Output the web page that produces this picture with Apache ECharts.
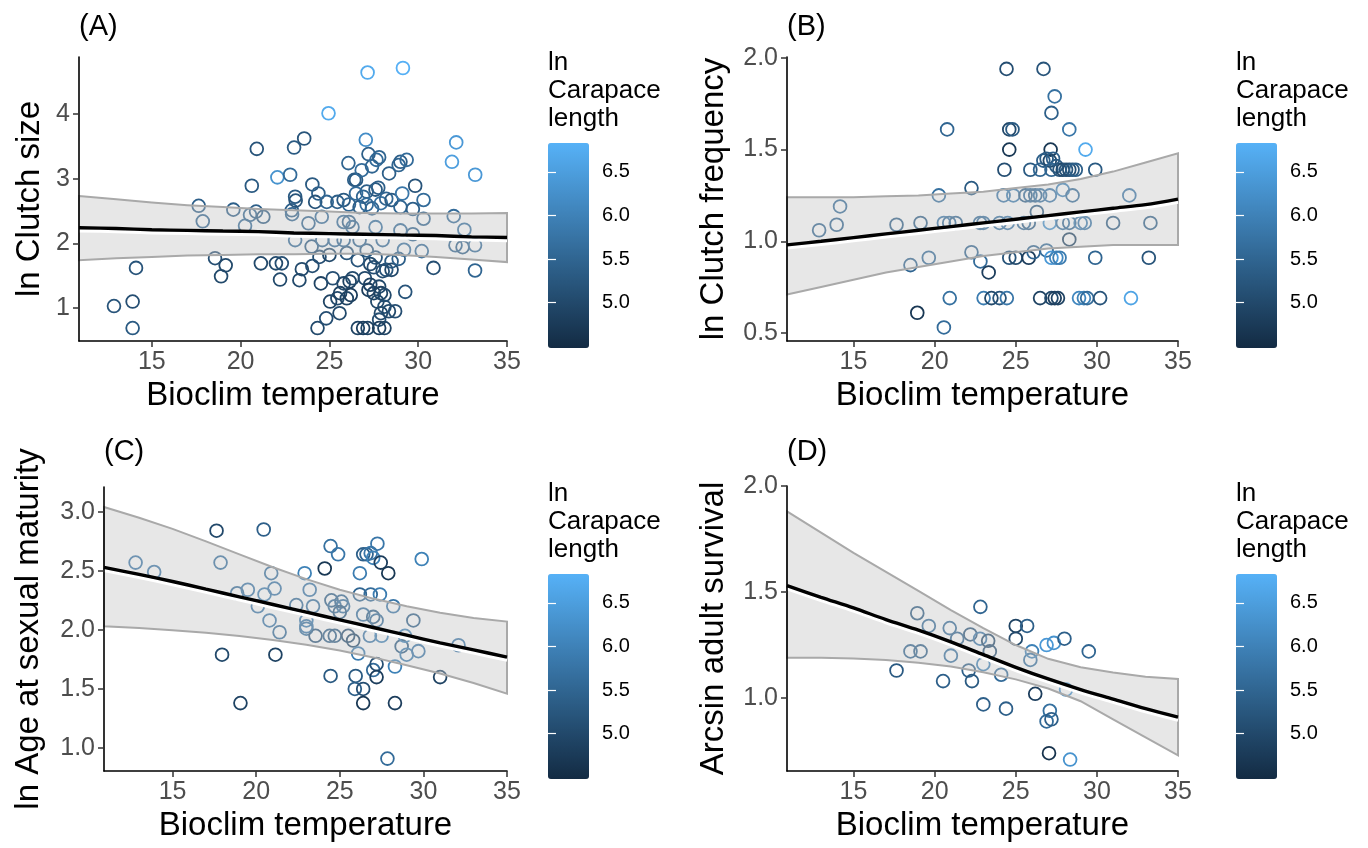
<!DOCTYPE html>
<html><head><meta charset="utf-8">
<script src="https://cdn.jsdelivr.net/npm/echarts@6/dist/echarts.min.js"></script>
<style>html,body{margin:0;padding:0;background:#fff}#c{width:1368px;height:848px}</style>
</head><body><div id="c"></div>
<script>
// ---------- Panel A: ln Clutch size ----------
const tempA = [12.87,13.92,13.92,14.11,17.64,17.87,18.56,19.16,18.90,19.59,20.25,20.63,20.91,20.53,20.87,21.28,21.14,22.07,21.99,22.32,22.22,22.79,23.01,23.58,22.88,22.90,23.07,23.10,23.45,23.31,23.07,23.82,24.00,24.04,24.04,24.38,24.20,24.57,24.44,24.52,24.33,24.82,24.95,24.85,25.00,25.19,25.04,25.57,25.45,25.60,26.07,25.45,25.80,26.10,25.80,25.98,25.80,26.14,26.30,26.20,25.98,26.40,26.50,26.82,27.05,27.15,29.14,27.20,27.40,27.65,27.80,27.60,27.10,26.90,26.50,26.70,27.10,27.40,27.75,27.90,28.20,28.36,28.50,28.90,29.00,29.35,29.10,29.00,29.83,29.70,30.30,30.30,29.00,29.70,30.20,29.20,30.86,29.27,28.50,28.20,28.50,28.00,27.60,27.50,27.30,27.10,27.00,27.30,27.20,27.50,27.80,27.90,28.10,27.70,28.10,27.90,27.80,28.35,28.70,26.60,26.90,27.15,27.80,28.10,31.90,32.14,33.21,32.00,32.60,32.10,32.50,33.20,33.20,26.70,26.30,26.10,25.30,24.60,27.60,28.00,25.80,28.90,26.60];
const clutchSizeA = [1.03,1.10,0.69,1.62,2.58,2.34,1.77,1.66,1.49,2.52,2.27,2.89,3.46,2.44,2.49,2.41,1.69,3.02,1.69,1.69,1.44,3.06,3.48,3.62,2.51,2.45,2.72,2.66,1.60,1.43,2.05,2.31,1.95,1.65,2.91,2.77,2.64,2.41,1.79,1.38,0.69,0.84,4.01,2.64,1.82,1.46,1.10,0.92,1.15,1.23,3.24,2.64,2.67,2.60,2.33,1.85,1.38,1.41,1.46,1.20,1.15,2.98,2.98,3.13,3.60,4.64,4.71,3.38,3.19,3.29,3.33,2.83,2.80,2.72,2.77,2.56,2.60,2.54,2.86,2.62,2.69,3.08,2.67,3.21,3.26,3.29,2.77,2.56,2.89,2.53,2.67,2.38,2.20,2.14,1.88,1.90,1.62,1.25,1.72,1.59,1.59,1.57,1.78,1.63,1.68,1.89,1.46,1.36,1.28,1.23,1.33,1.23,1.20,1.10,1.02,0.92,0.82,0.95,0.95,0.69,0.69,0.69,0.69,0.69,3.26,3.56,3.06,2.42,2.21,1.97,1.94,1.97,1.58,2.05,2.25,2.33,2.05,2.05,2.25,2.05,2.05,1.76,1.74];
const carapaceA = [5.2,5.1,5.3,5.2,5.4,5.5,5.1,5.0,5.0,5.4,5.6,5.3,5.2,5.5,5.4,5.3,5.0,6.3,5.0,5.1,5.0,5.6,5.3,5.2,5.4,5.5,5.3,5.2,5.0,5.0,5.6,5.5,5.3,5.1,5.3,5.4,5.2,5.6,5.1,4.9,5.0,5.1,6.7,5.5,5.0,5.1,4.9,5.0,5.0,4.9,5.5,5.4,5.3,5.5,5.6,5.2,5.0,4.9,5.0,4.8,4.9,5.4,5.3,5.6,6.2,6.7,6.8,5.4,5.5,5.6,5.5,5.3,5.4,5.5,5.6,5.4,5.6,5.5,5.4,5.7,5.5,5.4,5.3,5.5,5.4,5.6,5.8,5.5,5.2,5.4,5.6,5.5,5.6,5.5,5.6,5.7,5.1,5.2,5.3,5.2,5.0,5.1,5.2,5.1,5.0,5.3,5.0,4.9,4.8,4.9,5.0,4.9,5.0,5.0,5.1,5.0,5.1,5.0,5.1,4.9,4.8,4.9,4.8,4.9,6.5,6.4,6.4,5.6,5.7,5.5,5.4,5.6,5.5,5.5,5.6,5.4,5.6,5.5,5.7,5.6,5.5,5.4,5.2];

// ---------- Panel B: ln Clutch frequency ----------
const tempB = [12.88,13.96,14.17,17.65,18.51,19.13,18.93,19.64,20.26,20.57,20.77,20.57,20.93,20.90,21.30,22.27,22.27,22.82,23.33,23.00,23.02,23.50,24.00,24.45,24.25,24.00,24.50,24.43,24.60,24.80,24.60,24.30,24.85,24.60,25.00,25.80,26.10,25.90,26.50,25.60,25.90,26.20,26.50,27.10,25.50,25.80,26.30,26.71,27.40,27.20,28.30,27.15,26.70,26.90,27.10,27.30,27.50,27.20,27.70,27.90,28.10,28.30,28.50,28.70,29.90,29.30,27.90,28.50,32.00,27.10,27.90,28.30,29.00,29.25,31.00,33.30,28.30,26.90,27.20,27.50,27.70,29.90,33.20,26.50,27.20,27.40,27.60,28.90,29.20,29.40,30.20,32.10,22.80];
const clutchFreqB = [1.06,1.09,1.19,1.09,0.87,1.10,0.61,0.91,1.25,1.10,1.61,0.53,0.69,1.10,1.10,1.29,0.94,0.89,0.83,1.10,0.69,0.69,0.69,0.69,1.25,1.10,1.10,1.94,1.61,1.61,1.50,1.39,1.25,0.91,0.91,0.91,0.94,1.39,1.39,1.25,1.25,1.25,1.25,1.25,1.10,1.10,1.16,1.94,1.79,1.70,1.61,1.50,1.44,1.45,1.44,1.45,1.41,1.39,1.39,1.39,1.39,1.39,1.39,1.39,1.39,1.50,1.28,1.25,1.25,1.10,1.10,1.10,1.10,1.10,1.10,1.10,1.01,0.95,0.91,0.91,0.91,0.91,0.91,0.69,0.69,0.69,0.69,0.69,0.69,0.69,0.69,0.69,1.10];
const carapaceB = [5.5,5.5,5.6,5.4,5.5,5.4,4.7,5.6,5.7,5.8,5.5,5.6,5.7,5.6,5.5,5.3,5.5,5.6,4.8,5.7,5.9,5.0,5.2,5.8,5.8,5.7,5.8,5.1,5.0,5.3,4.7,5.1,5.9,5.2,5.0,4.8,5.5,5.3,5.5,5.4,5.6,5.5,5.7,5.8,5.6,5.4,5.3,5.2,5.7,5.4,5.8,4.7,5.4,5.3,5.0,5.4,5.3,5.5,5.2,5.0,5.2,5.1,5.3,5.4,5.3,6.7,6.0,5.6,5.8,6.3,5.7,5.5,5.9,5.8,5.3,5.4,4.9,5.6,6.4,6.1,5.9,5.5,5.2,4.9,5.0,4.8,4.9,6.1,6.0,5.6,5.2,6.6,5.6];

// ---------- Panel C: ln Age at sexual maturity ----------
const tempC = [12.79,13.90,17.63,17.87,20.45,18.86,19.50,20.10,20.50,20.90,21.10,20.80,21.40,17.96,21.15,19.06,22.40,22.90,23.20,23.40,23.00,23.00,23.55,24.10,24.45,24.90,24.50,24.70,25.10,25.20,25.00,24.40,24.70,24.45,25.50,25.80,26.20,26.20,26.40,26.60,26.85,27.00,27.25,27.45,27.90,26.85,27.40,26.40,27.00,27.20,26.80,27.50,28.20,26.10,25.95,25.90,26.40,26.40,27.00,27.20,27.20,28.30,28.30,27.85,28.70,28.90,29.00,29.70,29.40,29.90,31.00,32.10,23.00];
const ageMatC = [2.57,2.49,2.84,2.57,2.85,2.31,2.34,2.20,2.30,2.48,2.35,2.08,1.98,1.79,1.79,1.38,2.21,2.48,2.34,2.20,2.08,2.01,1.95,2.52,2.71,2.64,2.25,2.20,2.24,2.20,2.15,1.95,1.95,1.61,1.95,1.91,2.48,2.30,2.64,2.64,2.65,2.61,2.73,2.57,2.48,2.30,2.30,2.13,2.11,2.08,1.95,1.95,2.20,1.80,1.61,1.50,1.50,1.38,1.66,1.71,1.60,1.69,1.38,0.91,1.86,1.95,1.79,1.82,2.08,2.60,1.60,1.87,2.03];
const carapaceC = [5.8,5.8,5.0,5.7,5.4,5.6,5.8,5.8,5.9,5.7,5.8,5.8,5.6,5.0,4.9,4.9,5.6,6.0,5.8,5.7,5.9,5.7,5.2,4.7,5.7,5.8,5.4,5.6,5.5,5.7,5.3,5.4,5.3,5.3,5.1,5.0,5.9,5.5,5.4,5.5,5.8,6.0,5.8,4.8,4.7,5.6,5.9,5.7,5.4,5.6,5.8,6.0,5.8,5.9,5.3,5.4,5.1,4.7,5.6,5.1,4.8,6.0,4.8,5.6,5.3,6.0,5.9,5.8,5.4,6.0,4.9,5.8,5.8];

// ---------- Panel D: Arcsin adult survival ----------
const tempD = [17.65,18.51,19.13,18.93,19.64,20.52,20.93,21.39,21.00,22.20,22.10,22.30,22.82,22.80,23.30,23.40,23.00,23.00,24.10,24.40,25.00,25.00,25.70,25.90,26.00,26.20,26.90,27.35,28.00,29.50,28.10,27.10,26.90,27.20,27.05,28.35];
const survivalD = [1.13,1.22,1.22,1.40,1.34,1.08,1.33,1.28,1.20,1.30,1.13,1.08,1.43,1.28,1.27,1.22,1.16,0.97,1.11,0.95,1.34,1.28,1.34,1.18,1.22,1.02,1.25,1.26,1.28,1.22,1.04,0.94,0.89,0.90,0.74,0.71];
const carapaceD = [5.3,5.5,5.4,5.3,5.6,5.4,5.6,5.5,5.7,5.2,5.4,5.3,5.5,5.8,5.0,5.1,6.0,5.4,5.6,5.4,4.9,5.0,5.4,5.7,6.0,4.8,6.4,6.3,5.4,5.5,6.3,5.7,5.6,5.4,4.6,6.3];

// ---------- Fitted curves and 95% bands ----------
const fitX = [10.9,13,15,17,19,21,23,25,27,29,31,33,35];
const fitA = [2.24,2.23,2.21,2.20,2.19,2.18,2.16,2.15,2.14,2.13,2.12,2.10,2.09];
const upA  = [2.73,2.68,2.63,2.59,2.56,2.53,2.51,2.49,2.47,2.46,2.46,2.46,2.47];
const loA  = [1.74,1.77,1.79,1.81,1.82,1.83,1.83,1.84,1.84,1.82,1.79,1.75,1.71];
const fitB = [0.98,1.00,1.02,1.04,1.06,1.08,1.10,1.12,1.14,1.16,1.18,1.20,1.23];
const upB  = [1.24,1.24,1.24,1.245,1.25,1.26,1.27,1.29,1.31,1.34,1.38,1.43,1.48];
const loB  = [0.71,0.75,0.79,0.83,0.86,0.89,0.92,0.94,0.96,0.97,0.98,0.98,0.98];
const fitC = [2.53,2.47,2.41,2.345,2.28,2.215,2.15,2.085,2.02,1.955,1.89,1.83,1.77];
const upC  = [3.04,2.95,2.855,2.75,2.64,2.53,2.43,2.34,2.265,2.20,2.145,2.10,2.07];
const loC  = [2.03,2.015,1.997,1.975,1.948,1.915,1.875,1.825,1.767,1.70,1.63,1.55,1.46];
const fitD = [1.53,1.475,1.425,1.37,1.32,1.265,1.205,1.145,1.09,1.04,0.995,0.95,0.91];
const upD  = [1.88,1.78,1.685,1.595,1.505,1.415,1.33,1.25,1.185,1.145,1.12,1.10,1.09];
const loD  = [1.19,1.19,1.186,1.179,1.167,1.149,1.122,1.088,1.045,0.985,0.90,0.815,0.73];

// ---------- Tick labels ----------
const xTicks = [15,20,25,30,35];
const yTicksA = [1,2,3,4];
const yTicksB = [0.5,1.0,1.5,2.0];
const yTicksC = [1.0,1.5,2.0,2.5,3.0];
const yTicksD = [1.0,1.5,2.0];
const barTicks = [5.0,5.5,6.0,6.5];

const FONT = "'Liberation Sans', Arial, sans-serif";
const zip3 = (a,b,c) => a.map((v,i)=>[v,b[i],c[i]]);
const zip2 = (a,b) => a.map((v,i)=>[v,b[i]]);

const panels = [
  {x:tempA, y:clutchSizeA, c:carapaceA, fit:fitA, up:upA, lo:loA, yt:yTicksA, dec:0,
   ymin:0.49, ymax:4.88, name:'ln Clutch size', gap:33,
   grid:{left:79, top:57, width:428, height:284}, bar:{left:548, top:143}, tag:'(A)', tagPos:{left:79, top:12}},
  {x:tempB, y:clutchFreqB, c:carapaceB, fit:fitB, up:upB, lo:loB, yt:yTicksB, dec:1,
   ymin:0.456, ymax:2.005, name:'ln Clutch frequency', gap:57,
   grid:{left:787, top:57, width:391, height:284}, bar:{left:1236, top:143}, tag:'(B)', tagPos:{left:787, top:12}},
  {x:tempC, y:ageMatC, c:carapaceC, fit:fitC, up:upC, lo:loC, yt:yTicksC, dec:1,
   ymin:0.805, ymax:3.21, name:'ln Age at sexual maturity', gap:59,
   grid:{left:104, top:487, width:403, height:284}, bar:{left:548, top:574}, tag:'(C)', tagPos:{left:104, top:437}},
  {x:tempD, y:survivalD, c:carapaceD, fit:fitD, up:upD, lo:loD, yt:yTicksD, dec:1,
   ymin:0.656, ymax:2.0, name:'Arcsin adult survival', gap:57,
   grid:{left:787, top:486, width:391, height:285}, bar:{left:1236, top:574}, tag:'(D)', tagPos:{left:787, top:437}}
];

function pointRender(params, api) {
  const p = api.coord([api.value(0), api.value(1)]);
  return {type:'circle', shape:{cx:p[0], cy:p[1], r:6.4},
          style:{fill:'none', stroke:api.visual('color'), lineWidth:1.8}};
}
function bandRender(params, api) {
  if (params.dataIndexInside !== 0) return null;
  const n = params.dataInsideLength;
  const up = [], lo = [];
  for (let i = 0; i < n; i++) {
    up.push(api.coord([api.value(0, i), api.value(2, i)]));
    lo.push(api.coord([api.value(0, i), api.value(1, i)]));
  }
  return {type:'polygon', shape:{points: up.concat(lo.reverse())},
          style:{fill:'rgba(195,195,195,0.4)', stroke:'#a9a9a9', lineWidth:2}};
}

const grids = [], xAxes = [], yAxes = [], series = [], visualMaps = [], titles = [];
panels.forEach((P, k) => {
  grids.push(P.grid);
  xAxes.push({type:'value', gridIndex:k, min:10.9, max:35, z:10,
    name:'Bioclim temperature', nameLocation:'middle', nameGap:38,
    nameTextStyle:{fontSize:33, color:'#000', fontFamily:FONT},
    axisLine:{show:true, onZero:false, lineStyle:{color:'#000', width:1.6}},
    axisTick:{show:true, length:6, customValues:xTicks, lineStyle:{color:'#333', width:1.5}},
    axisLabel:{customValues:xTicks, fontSize:25, color:'#4d4d4d', margin:9, fontFamily:FONT},
    splitLine:{show:false}});
  yAxes.push({type:'value', gridIndex:k, min:P.ymin, max:P.ymax, z:10,
    name:P.name, nameLocation:'middle', nameGap:P.gap,
    nameTextStyle:{fontSize:33, color:'#000', fontFamily:FONT},
    axisLine:{show:true, onZero:false, lineStyle:{color:'#000', width:1.6}},
    axisTick:{show:true, length:6, customValues:P.yt, lineStyle:{color:'#333', width:1.5}},
    axisLabel:{customValues:P.yt, fontSize:25, color:'#4d4d4d', margin:9, fontFamily:FONT,
               formatter:(v)=>Number(v).toFixed(P.dec)},
    splitLine:{show:false}});
  const base = series.length;
  series.push({type:'custom', xAxisIndex:k, yAxisIndex:k, renderItem:pointRender,
    data:zip3(P.x, P.y, P.c), encode:{x:0, y:1}, z:2, silent:true});
  series.push({type:'custom', xAxisIndex:k, yAxisIndex:k, renderItem:bandRender,
    data:zip3(fitX, P.lo, P.up), encode:{x:0, y:[1,2]}, z:3, silent:true});
  series.push({type:'line', xAxisIndex:k, yAxisIndex:k, data:zip2(fitX, P.fit), smooth:0.3,
    showSymbol:false, z:4, silent:true,
    lineStyle:{color:'#000', width:3.4, shadowColor:'#ffffff', shadowOffsetY:3, shadowBlur:0}});
  visualMaps.push({type:'continuous', seriesIndex:base, dimension:2, min:4.48, max:6.83,
    calculable:false, hoverLink:false, left:P.bar.left, top:P.bar.top, itemWidth:41, itemHeight:205,
    padding:0, text:null, inRange:{color:['#132B43','#56B1F7']}});
  titles.push({text:P.tag, left:P.tagPos.left, top:P.tagPos.top, padding:0,
    textStyle:{fontSize:29, fontWeight:'normal', color:'#000', fontFamily:FONT}});
  titles.push({text:'ln\nCarapace\nlength', left:P.bar.left, top:P.bar.top - 94, padding:0,
    textStyle:{fontSize:26, lineHeight:28, fontWeight:'normal', color:'#000', fontFamily:FONT}});
});
// colour-bar axes (tick marks and labels of the legend)
panels.forEach((P, k) => {
  const gi = grids.length;
  grids.push({left:P.bar.left, top:P.bar.top, width:41, height:205});
  xAxes.push({type:'value', gridIndex:gi, show:false, min:0, max:1});
  yAxes.push({type:'value', gridIndex:gi, position:'right', min:4.48, max:6.83, z:10,
    axisLine:{show:false},
    axisTick:{show:true, inside:true, length:8, customValues:barTicks, lineStyle:{color:'#fff', width:1.2}},
    axisLabel:{customValues:barTicks, fontSize:20, color:'#000', margin:13, fontFamily:FONT,
               formatter:(v)=>Number(v).toFixed(1)},
    splitLine:{show:false}});
  yAxes.push({type:'value', gridIndex:gi, position:'left', min:4.48, max:6.83, z:10,
    axisLine:{show:false},
    axisTick:{show:true, inside:true, length:8, customValues:barTicks, lineStyle:{color:'#fff', width:1.2}},
    axisLabel:{show:false}, splitLine:{show:false}});
});

const chart = echarts.init(document.getElementById('c'), null, {renderer:'canvas'});
chart.setOption({
  animation:false, backgroundColor:'#fff',
  title:titles, grid:grids, xAxis:xAxes, yAxis:yAxes, visualMap:visualMaps, series:series
});
</script></body></html>
